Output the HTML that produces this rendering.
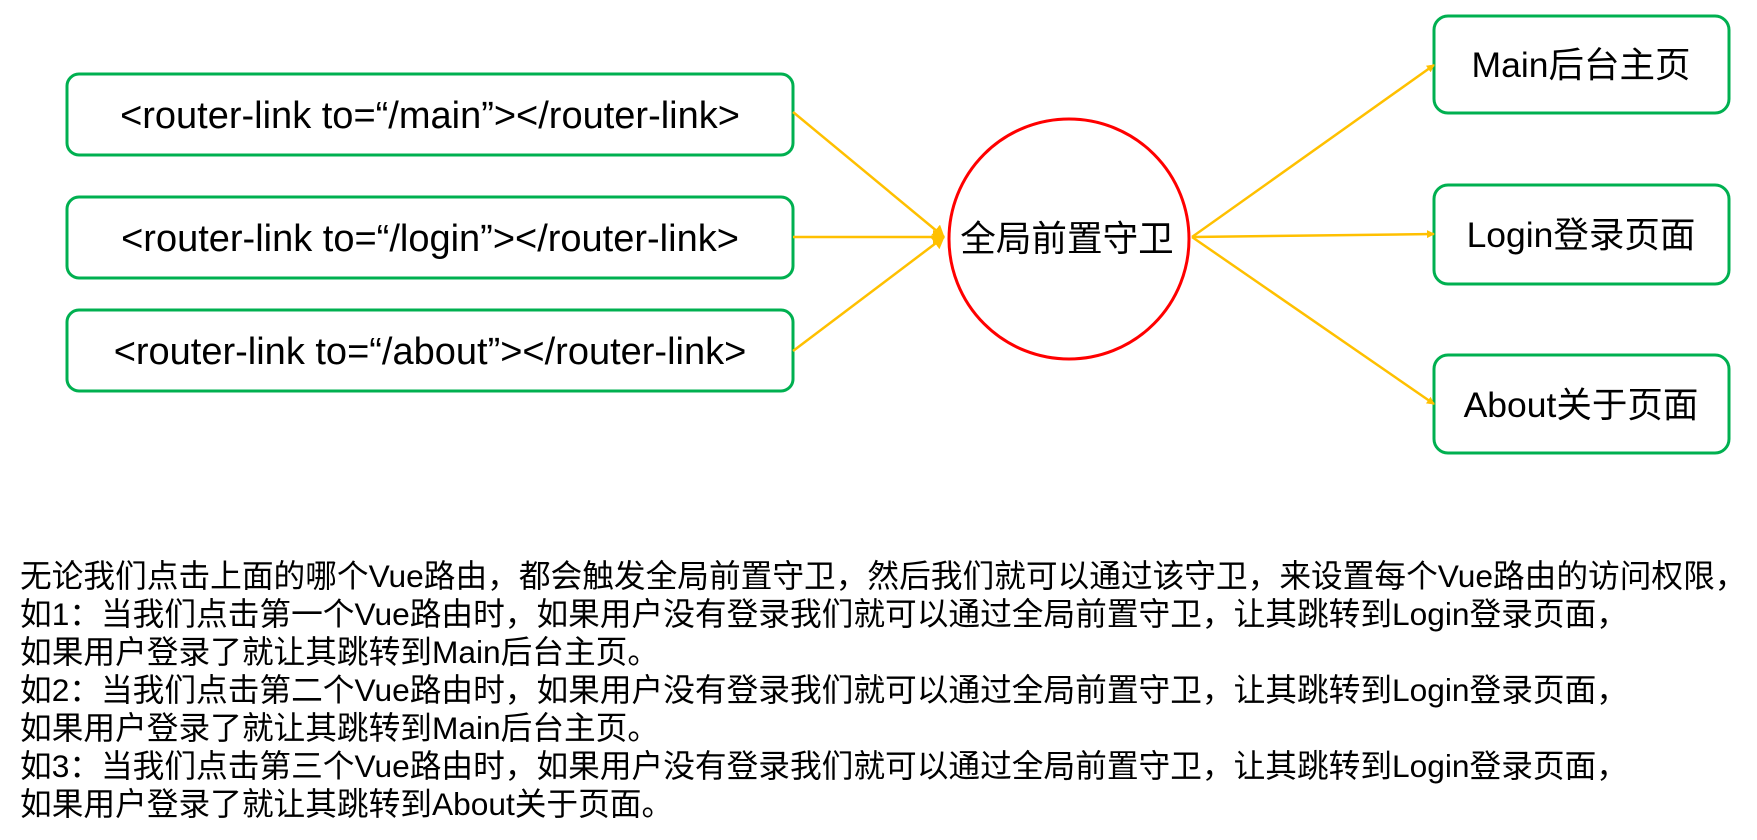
<!DOCTYPE html>
<html><head><meta charset="utf-8"><style>
body{margin:0;width:1757px;height:840px;background:#fff;overflow:hidden;font-family:"Liberation Sans","Noto Sans CJK SC",sans-serif;}
.t{position:absolute;left:20px;font-size:31.7px;line-height:38px;color:#000;white-space:nowrap;top:557px;}
</style></head><body>
<svg width="1757" height="840" style="position:absolute;left:0;top:0" font-family="Liberation Sans, Noto Sans CJK SC, sans-serif">
<defs><marker id="a" markerWidth="8" markerHeight="8" refX="7" refY="4" orient="auto" markerUnits="userSpaceOnUse"><path d="M0,0 L8,4 L0,8 Z" fill="#FFC000"/></marker>
<marker id="b" markerWidth="12" markerHeight="14" refX="11" refY="7" orient="auto" markerUnits="userSpaceOnUse"><path d="M0,0 L12,7 L0,14 Z" fill="#FFC000"/></marker></defs>
<g fill="none" stroke="#00B050" stroke-width="3">
<rect x="67" y="74" width="726" height="81" rx="12"/>
<rect x="67" y="197" width="726" height="81" rx="12"/>
<rect x="67" y="310" width="726" height="81" rx="12"/>
<rect x="1434" y="16" width="295" height="97" rx="14"/>
<rect x="1434" y="185" width="295" height="99" rx="14"/>
<rect x="1434" y="355" width="295" height="98" rx="14"/>
</g>
<circle cx="1069" cy="239" r="120" fill="none" stroke="#FF0000" stroke-width="3"/>
<g stroke="#FFC000" stroke-width="2.5" fill="none">
<line x1="793" y1="112" x2="944" y2="237" marker-end="url(#b)"/>
<line x1="793" y1="237" x2="944" y2="237" marker-end="url(#b)"/>
<line x1="793" y1="351" x2="944" y2="237" marker-end="url(#b)"/>
<line x1="1192" y1="237" x2="1434" y2="65" marker-end="url(#a)"/>
<line x1="1192" y1="237" x2="1434" y2="234" marker-end="url(#a)"/>
<line x1="1192" y1="237" x2="1434" y2="404" marker-end="url(#a)"/>
</g>
<g font-size="38" text-anchor="middle" fill="#000">
<text x="430" y="128">&lt;router-link to=“/main”&gt;&lt;/router-link&gt;</text>
<text x="430" y="251">&lt;router-link to=“/login”&gt;&lt;/router-link&gt;</text>
<text x="430" y="364">&lt;router-link to=“/about”&gt;&lt;/router-link&gt;</text>
<text x="1581" y="77" font-size="35.5">Main后台主页</text>
<text x="1581" y="247" font-size="35.5">Login登录页面</text>
<text x="1581" y="417" font-size="35.5">About关于页面</text>
<text x="1067" y="251" font-size="35.6">全局前置守卫</text>
</g>
</svg>
<div class="t">无论我们点击上面的哪个Vue路由，都会触发全局前置守卫，然后我们就可以通过该守卫，来设置每个Vue路由的访问权限，<br>如1：当我们点击第一个Vue路由时，如果用户没有登录我们就可以通过全局前置守卫，让其跳转到Login登录页面，<br>如果用户登录了就让其跳转到Main后台主页。<br>如2：当我们点击第二个Vue路由时，如果用户没有登录我们就可以通过全局前置守卫，让其跳转到Login登录页面，<br>如果用户登录了就让其跳转到Main后台主页。<br>如3：当我们点击第三个Vue路由时，如果用户没有登录我们就可以通过全局前置守卫，让其跳转到Login登录页面，<br>如果用户登录了就让其跳转到About关于页面。</div>
</body></html>
